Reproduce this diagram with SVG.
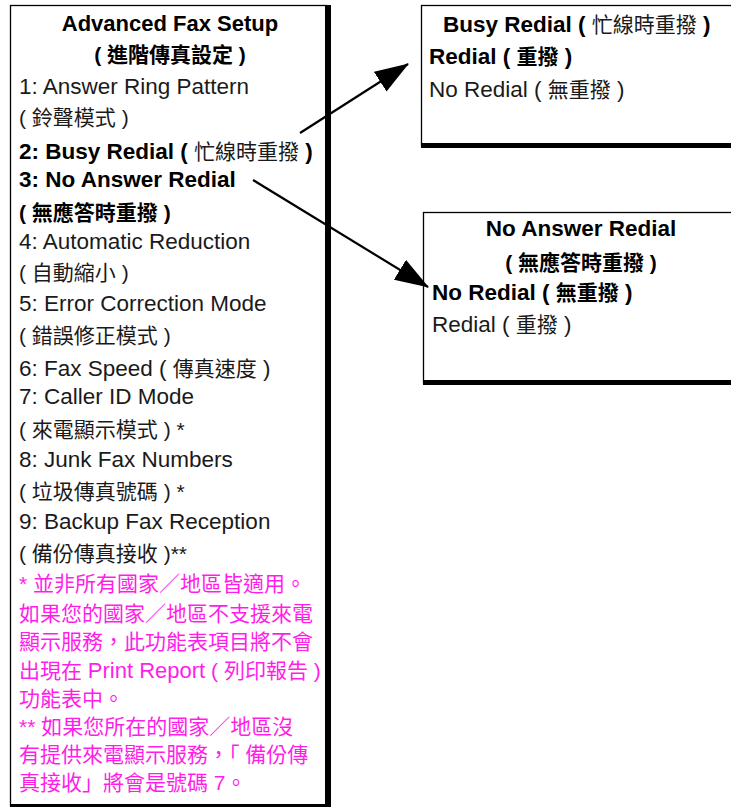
<svg xmlns="http://www.w3.org/2000/svg" width="731" height="808" viewBox="0 0 731 808">
<style>
text{font-family:"Liberation Sans","Noto Sans CJK TC",sans-serif;font-size:22.5px;fill:#1a1a1a}
.k{font-size:21px}
.b{font-weight:bold;fill:#000}
.n{font-weight:normal;fill:#1a1a1a}
.m{fill:#ff1ee8;font-size:21px}
.c{text-anchor:middle}
.frame{fill:none;stroke:#000;stroke-width:1.3}
.conn{stroke:#000;stroke-width:2.2;fill:none}
</style>
<defs>
<marker id="ah" markerUnits="userSpaceOnUse" markerWidth="34" markerHeight="24" viewBox="0 0 32 22" refX="31" refY="11" orient="auto">
<path d="M0,0 L32,11 L0,22 Z" fill="#000"/>
</marker>
</defs>
<g id="node-advanced">
<rect class="frame" x="10.5" y="5.5" width="316" height="800"/>
<rect x="325" y="5" width="6" height="802" fill="#000"/>
<rect x="10" y="804" width="321" height="3" fill="#000"/>
<text class="b c" x="170" y="31" style="font-size:22px">Advanced Fax Setup</text>
<text class="b c k" x="170" y="62">( 進階傳真設定 )</text>
<text x="19" y="94">1: Answer Ring Pattern</text>
<text class="k" x="19" y="125">( 鈴聲模式 )</text>
<text class="b" x="19" y="159">2: Busy Redial ( <tspan class="n k">忙線時重撥</tspan> )</text>
<text class="b" x="19" y="187">3: No Answer Redial</text>
<text class="b k" x="19" y="220">( 無應答時重撥 )</text>
<text x="19" y="249">4: Automatic Reduction</text>
<text class="k" x="19" y="280">( 自動縮小 )</text>
<text x="19" y="311">5: Error Correction Mode</text>
<text class="k" x="19" y="343">( 錯誤修正模式 )</text>
<text x="19" y="376">6: Fax Speed ( <tspan class="k">傳真速度</tspan> )</text>
<text x="19" y="404">7: Caller ID Mode</text>
<text class="k" x="19" y="437">( 來電顯示模式 ) *</text>
<text x="19" y="467">8: Junk Fax Numbers</text>
<text class="k" x="19" y="499">( 垃圾傳真號碼 ) *</text>
<text x="19" y="529">9: Backup Fax Reception</text>
<text class="k" x="19" y="561">( 備份傳真接收 )**</text>
<text class="m" x="19" y="591">* 並非所有國家／地區皆適用。</text>
<text class="m" x="19" y="621">如果您的國家／地區不支援來電</text>
<text class="m" x="19" y="649">顯示服務，此功能表項目將不會</text>
<text class="m" x="19" y="678">出現在 <tspan style="font-size:22px">Print Report</tspan> ( 列印報告 )</text>
<text class="m" x="19" y="706">功能表中。</text>
<text class="m" x="19" y="734">** 如果您所在的國家／地區沒</text>
<text class="m" x="19" y="762">有提供來電顯示服務，「 備份傳</text>
<text class="m" x="19" y="790">真接收」將會是號碼 7。</text>
</g>
<g id="node-busy">
<rect class="frame" x="421.5" y="5.5" width="320" height="140"/>
<rect x="421" y="143" width="310" height="5" fill="#000"/>
<text class="b" x="443" y="32">Busy Redial ( <tspan class="n k">忙線時重撥</tspan> )</text>
<text class="b" x="429" y="64">Redial ( <tspan class="k">重撥</tspan> )</text>
<text x="429" y="97">No Redial ( <tspan class="k">無重撥</tspan> )</text>
</g>
<g id="node-noanswer">
<rect class="frame" x="423.5" y="212.5" width="320" height="170"/>
<rect x="423" y="380" width="308" height="5" fill="#000"/>
<text class="b c" x="581" y="236">No Answer Redial</text>
<text class="b c k" x="581" y="270">( 無應答時重撥 )</text>
<text class="b" x="432" y="300">No Redial ( <tspan class="k">無重撥</tspan> )</text>
<text x="432" y="332">Redial ( <tspan class="k">重撥</tspan> )</text>
</g>
<g id="connectors">
<line class="conn" x1="300" y1="133" x2="408" y2="64" marker-end="url(#ah)"/>
<line class="conn" x1="253" y1="180" x2="428" y2="287" marker-end="url(#ah)"/>
</g>
</svg>
